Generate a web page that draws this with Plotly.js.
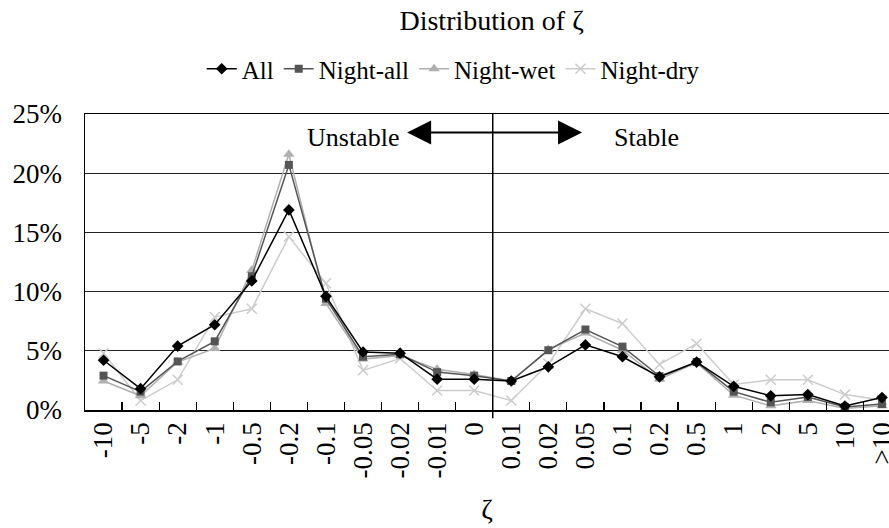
<!DOCTYPE html>
<html>
<head>
<meta charset="utf-8">
<script src="https://cdn.plot.ly/plotly-3.0.1.min.js"></script>
<style>html,body{margin:0;padding:0;overflow:hidden;background:#fff}</style>
</head>
<body>
<div id="chart" style="width:889px;height:528px"></div>
<script>
var categories = ["-10","-5","-2","-1","-0.5","-0.2","-0.1","-0.05","-0.02","-0.01","0","0.01","0.02","0.05","0.1","0.2","0.5","1","2","5","10",">10"];
var allVals      = [4.2,1.8,5.4,7.2,10.9,16.9,9.6,4.9,4.8,2.6,2.6,2.45,3.65,5.5,4.5,2.8,4.05,2.0,1.2,1.3,0.33,1.05];
var nightAllVals = [2.9,1.55,4.1,5.8,11.3,20.7,9.4,4.5,4.7,3.2,2.9,2.45,5.05,6.8,5.35,2.85,4.05,1.55,0.65,1.1,0.25,0.5];
var nightWetVals = [2.45,1.2,4.05,5.2,11.8,21.6,9.0,4.3,4.6,3.45,3.0,2.45,5.1,6.5,5.05,2.6,4.0,1.25,0.35,0.8,0.12,0.35];
var nightDryVals = [4.8,0.8,2.55,7.85,8.55,14.65,10.7,3.35,4.35,1.65,1.65,0.8,3.9,8.55,7.3,3.85,5.6,2.15,2.55,2.55,1.3,0.85];
var seriesNames = ["All","Night-all","Night-wet","Night-dry"];

var serif = "Liberation Serif";
function tr(name, vals, color, symbol, size, lw) {
  return {
    x: categories, y: vals, name: name, type: "scatter", mode: "lines+markers",
    line: {color: color, width: lw},
    marker: {symbol: symbol, size: size, color: color, line: {color: color, width: symbol === "x-thin" ? 1.5 : 0}},
    cliponaxis: false
  };
}
var data = [
  tr(seriesNames[3], nightDryVals, "#cccccc", "x-thin", 10, 1.5),
  tr(seriesNames[2], nightWetVals, "#b0b0b0", "triangle-up", 10, 1.5),
  tr(seriesNames[1], nightAllVals, "#555555", "square", 8, 1.5),
  tr(seriesNames[0], allVals, "#000000", "diamond", 9, 1.5)
];

var layout = {
  width: 889, height: 528,
  margin: {l: 85, r: 0, t: 114, b: 118},
  paper_bgcolor: "#fff", plot_bgcolor: "#fff",
  font: {family: serif, color: "#000", size: 24},
  title: {text: "Distribution of ζ", x: 0.553, xanchor: "center", y: 0.962, yanchor: "middle", font: {family: serif, size: 28, color: "#000"}},
  showlegend: true,
  legend: {orientation: "h", traceorder: "reversed", x: 0.458, xanchor: "center", y: 1.152, yanchor: "middle",
           font: {family: serif, size: 25, color: "#000"}, itemwidth: 30, bgcolor: "rgba(0,0,0,0)"},
  xaxis: {
    type: "category", range: [-0.5, 21.19], tickson: "boundaries",
    ticks: "inside", ticklen: 8, tickwidth: 1.2, tickcolor: "#000",
    tickangle: -90, tickfont: {family: serif, size: 27, color: "#000"},
    showline: true, linecolor: "#000", linewidth: 1.5, mirror: true,
    showgrid: false, zeroline: false,
    title: {text: "ζ", font: {family: serif, size: 28, color: "#000"}, standoff: 22}
  },
  yaxis: {
    range: [0, 25], tickvals: [0,5,10,15,20,25], ticktext: ["0%","5%","10%","15%","20%","25%"],
    tickfont: {family: serif, size: 27, color: "#000"}, ticks: "", ticklabelstandoff: 16,
    showline: true, linecolor: "#000", linewidth: 1.5,
    showgrid: true, gridcolor: "#222", gridwidth: 1.2, zeroline: false
  },
  shapes: [
    {type: "line", xref: "x", yref: "paper", x0: 10.5, x1: 10.5, y0: -0.028, y1: 1, line: {color: "#000", width: 1.5}}
  ],
  annotations: [
    {x: 12.91, y: 23.43, ax: 8.15, ay: 23.43, axref: "x", ayref: "y", xref: "x", yref: "y", text: "",
     showarrow: true, arrowhead: 2, startarrowhead: 2, arrowside: "end+start", arrowsize: 2.4, startarrowsize: 2.4, arrowwidth: 2, arrowcolor: "#000"},
    {x: 6.73, y: 23.0, xref: "x", yref: "y", text: "Unstable", showarrow: false, font: {family: serif, size: 26, color: "#000"}},
    {x: 14.64, y: 23.0, xref: "x", yref: "y", text: "Stable", showarrow: false, font: {family: serif, size: 26, color: "#000"}}
  ]
};
Plotly.newPlot("chart", data, layout, {displayModeBar: false, staticPlot: true});
</script>
</body>
</html>
